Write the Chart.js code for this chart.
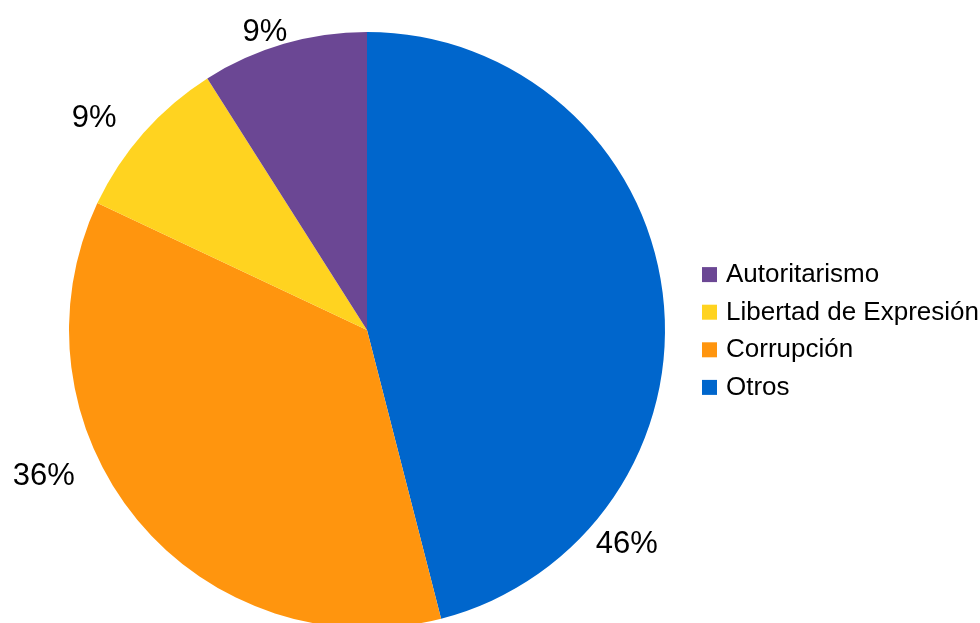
<!DOCTYPE html>
<html>
<head>
<meta charset="utf-8">
<script src="https://cdn.jsdelivr.net/npm/chart.js@4/dist/chart.umd.min.js"></script>
<style>
  html, body { margin: 0; padding: 0; background: #fff; }
  #wrap { width: 980px; height: 623px; position: relative; }
</style>
</head>
<body>
<div id="wrap"><canvas id="pieChart"></canvas></div>
<script>
// Slices go clockwise from 12 o'clock; the legend lists them the other way round
var categories = ["Otros", "Corrupción", "Libertad de Expresión", "Autoritarismo"];
var shares = [46, 36, 9, 9];
var sliceColors = ["#0066cc", "#ff950e", "#ffd320", "#6b4794"];

// percent labels outside the rim
var pctLabels = {
    id: "pctLabels",
    afterDatasetsDraw: function (chart, args, opts) {
        var ctx = chart.ctx;
        var arcs = chart.getDatasetMeta(0).data;
        var values = chart.data.datasets[0].data;
        var total = values.reduce(function (a, b) { return a + b; }, 0);
        ctx.save();
        ctx.font = opts.font;
        ctx.fillStyle = opts.color;
        ctx.textAlign = "center";
        ctx.textBaseline = "alphabetic";
        arcs.forEach(function (arc, i) {
            var p = opts.place[i];
            var a = arc.startAngle + (arc.endAngle - arc.startAngle) * p.at;
            var d = arc.outerRadius + p.gap;
            var x = arc.x + Math.cos(a) * d;
            var y = arc.y + Math.sin(a) * d;
            var txt = Math.round(values[i] / total * 100) + "%";
            ctx.fillText(txt, x, y + opts.capHeight / 2);
        });
        ctx.restore();
    }
};

// legend block to the right of the pie
var sideLegend = {
    id: "sideLegend",
    afterDraw: function (chart, args, opts) {
        var ctx = chart.ctx;
        var colors = chart.data.datasets[0].backgroundColor;
        var n = chart.data.labels.length;
        var top = opts.centerY - (n - 1) * opts.rowGap / 2;
        ctx.save();
        ctx.font = opts.font;
        ctx.textAlign = "left";
        ctx.textBaseline = "alphabetic";
        for (var k = 0; k < n; k++) {
            var i = n - 1 - k;
            var cy = top + k * opts.rowGap;
            ctx.fillStyle = colors[i];
            ctx.fillRect(opts.x, cy - opts.box / 2, opts.box, opts.box);
            ctx.fillStyle = "#000";
            ctx.fillText(chart.data.labels[i], opts.x + opts.box + 9, cy + opts.box / 2);
        }
        ctx.restore();
    }
};

new Chart(document.getElementById("pieChart"), {
    type: "pie",
    data: {
        labels: categories,
        datasets: [{
            data: shares,
            backgroundColor: sliceColors,
            borderWidth: 0,
            clip: false
        }]
    },
    options: {
        responsive: true,
        maintainAspectRatio: false,
        animation: false,
        radius: 298,
        layout: { padding: { left: 0, right: 246, top: 37, bottom: 0 } },
        plugins: {
            legend: { display: false },
            tooltip: { enabled: false },
            pctLabels: {
                font: "31px 'Liberation Sans', Arial, sans-serif",
                color: "#000",
                capHeight: 22,
                place: [
                    { at: 0.78, gap: 37 },
                    { at: 0.62, gap: 56 },
                    { at: 0.40, gap: 49 },
                    { at: 0.42, gap: 19 }
                ]
            },
            sideLegend: {
                font: "26px 'Liberation Sans', Arial, sans-serif",
                x: 702,
                box: 15,
                rowGap: 37.6,
                centerY: 331
            }
        }
    },
    plugins: [pctLabels, sideLegend]
});
</script>
</body>
</html>
